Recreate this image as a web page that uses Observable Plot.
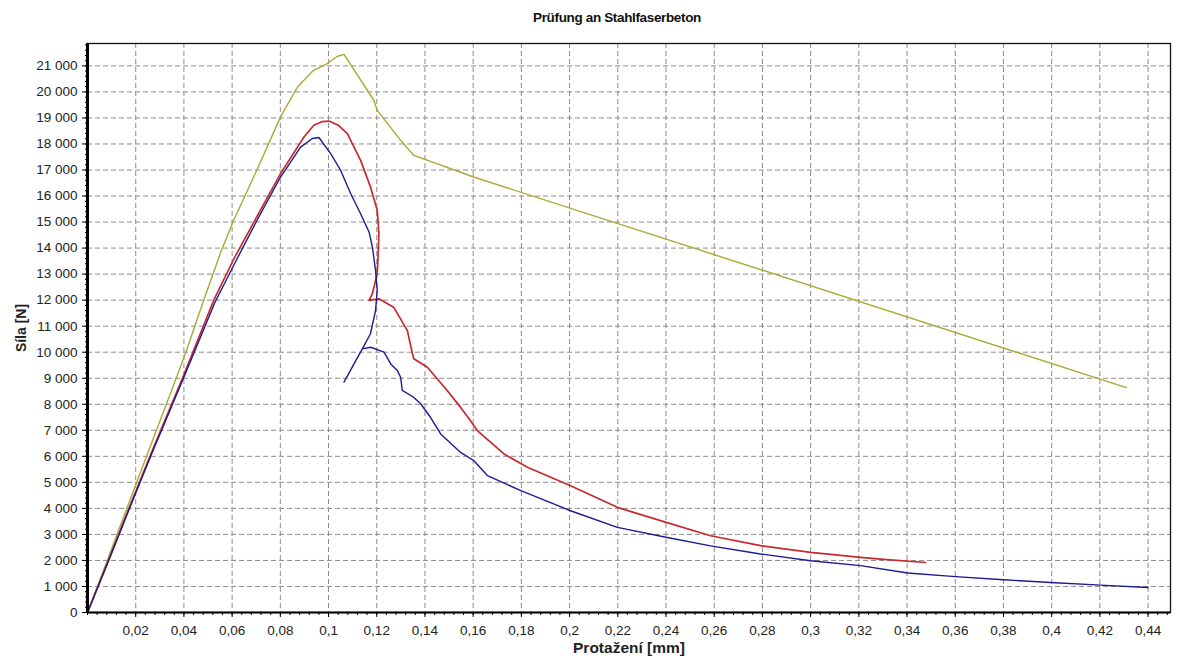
<!DOCTYPE html>
<html>
<head>
<meta charset="utf-8">
<script src="https://cdn.jsdelivr.net/npm/d3@7"></script>
<script src="https://cdn.jsdelivr.net/npm/@observablehq/plot@0.6"></script>
<style>
  html, body { margin: 0; padding: 0; background: #fff; }
  body { width: 1177px; height: 664px; position: relative; overflow: hidden; font-family: "Liberation Sans", Arial, sans-serif; }
  #title { position: absolute; top: 0; left: 617px; transform: translateX(-50%); height: 34px; line-height: 36px; font-weight: bold; font-size: 13.5px; letter-spacing: -0.35px; color: #111; white-space: nowrap; }
  #chart { position: absolute; top: 34px; left: 0; }
</style>
</head>
<body>
<div id="title">Prüfung an Stahlfaserbeton</div>
<div id="chart"></div>
<script>
// ---- data (x = Protažení [mm], y = Síla [N]) ----
const titleText = "Prüfung an Stahlfaserbeton";
const xLabel = "Protažení [mm]";
const yLabel = "Síla [N]";

const xTicks = [0.02, 0.04, 0.06, 0.08, 0.1, 0.12, 0.14, 0.16, 0.18, 0.2, 0.22, 0.24, 0.26, 0.28, 0.3, 0.32, 0.34, 0.36, 0.38, 0.4, 0.42, 0.44];
const yTicks = [0, 1000, 2000, 3000, 4000, 5000, 6000, 7000, 8000, 9000, 10000, 11000, 12000, 13000, 14000, 15000, 16000, 17000, 18000, 19000, 20000, 21000];

// red specimen
const seriesRed = [
  [0, 0], [0.0087, 2000], [0.0172, 4000], [0.0259, 6000], [0.0394, 9000], [0.0524, 12000],
  [0.0608, 13600], [0.0705, 15250], [0.0801, 16860], [0.0898, 18270],
  [0.0939, 18720], [0.0975, 18860], [0.1002, 18880], [0.1040, 18720], [0.1078, 18400], [0.1133, 17370],
  [0.1174, 16350], [0.1202, 15450], [0.1209, 14550], [0.1205, 13600], [0.1202, 13020], [0.1182, 12250],
  [0.1168, 11990], [0.1209, 12050], [0.1270, 11730], [0.1327, 10830], [0.1348, 9940],
  [0.1354, 9750], [0.1410, 9420], [0.1493, 8520], [0.1548, 7880], [0.1589, 7370],
  [0.1617, 6990], [0.1728, 6090], [0.1825, 5580], [0.2004, 4870], [0.2198, 4040],
  [0.2377, 3530], [0.2585, 2950], [0.2792, 2570], [0.3000, 2310], [0.3207, 2120],
  [0.3290, 2050], [0.3477, 1920]
];

// blue specimen
const seriesBlue = [
  [0, 0], [0.0088, 2000], [0.0174, 4000], [0.0262, 6000], [0.0398, 9000], [0.0528, 11900],
  [0.0610, 13400], [0.0705, 15100], [0.0801, 16730], [0.0884, 17880], [0.0933, 18210],
  [0.0960, 18250], [0.1009, 17630], [0.1050, 16990], [0.1092, 16090], [0.1133, 15320],
  [0.1168, 14620], [0.1182, 14040], [0.1195, 13140], [0.1202, 12370], [0.1195, 11600],
  [0.1174, 10710], [0.1140, 10130], [0.1064, 8850], [0.1140, 10130], [0.1175, 10190],
  [0.1230, 10000], [0.1258, 9550], [0.1285, 9300], [0.1299, 9040], [0.1306, 8530],
  [0.1353, 8270], [0.1382, 8020], [0.1423, 7500], [0.1465, 6860], [0.1548, 6150],
  [0.1603, 5830], [0.1659, 5260], [0.1798, 4680], [0.2004, 3910], [0.2198, 3270],
  [0.2405, 2880], [0.2585, 2560], [0.2792, 2250], [0.3000, 1990], [0.3207, 1800],
  [0.3402, 1520], [0.3601, 1380], [0.3800, 1260], [0.3995, 1150], [0.4202, 1050],
  [0.4400, 960]
];

// olive specimen
const seriesOlive = [
  [0, 0], [0.0082, 2000], [0.0163, 4000], [0.0245, 6000], [0.0368, 9000], [0.0408, 10000],
  [0.0482, 12000], [0.0553, 13850], [0.0608, 15100], [0.0705, 17050],
  [0.0801, 19040], [0.0871, 20190], [0.0938, 20830], [0.0995, 21090], [0.1037, 21370],
  [0.1064, 21440], [0.1188, 19680], [0.1202, 19290], [0.1299, 18140], [0.1354, 17560],
  [0.1602, 16730], [0.4310, 8640]
];

const seriesColors = ["#c62a2e", "#1c1c8e", "#a9a934"];

// ---- formatting ----
const loc = d3.formatLocale({decimal: ",", thousands: "\u00a0", grouping: [3], currency: ["", ""]});
const fmtY = loc.format(",d");
const fmtX = d => String(+d.toFixed(2)).replace(".", ",");

const minorX = d3.range(0, 113).map(i => +(i * 0.004).toFixed(3)).filter(v => v <= 0.449);
const minorY = d3.range(0, 110).map(i => i * 200).filter(v => v <= 21800);

const gridStyle = {stroke: "#8c8c8c", strokeOpacity: 1, strokeWidth: 1, strokeDasharray: "5,3"};

const chart = Plot.plot({
  width: 1177,
  height: 630,
  marginLeft: 87,
  marginRight: 7,
  marginTop: 9,
  marginBottom: 52,
  style: {fontFamily: "'Liberation Sans', Arial, sans-serif", fontSize: "13px", color: "#222", background: "#fff"},
  x: {domain: [0, 0.4493], label: null},
  y: {domain: [0, 21860], label: null},
  marks: [
    Plot.ruleY(yTicks.slice(1), gridStyle),
    Plot.ruleX(xTicks, gridStyle),
    Plot.frame({stroke: "#111", strokeWidth: 1.3}),
    Plot.line(seriesOlive, {x: d => d[0], y: d => d[1], stroke: seriesColors[2], strokeWidth: 1.4}),
    Plot.line(seriesRed, {x: d => d[0], y: d => d[1], stroke: seriesColors[0], strokeWidth: 1.7}),
    Plot.line(seriesBlue, {x: d => d[0], y: d => d[1], stroke: seriesColors[1], strokeWidth: 1.4}),
    Plot.ruleY([0], {stroke: "#000", strokeWidth: 2.2}),
    Plot.ruleX([0], {stroke: "#000", strokeWidth: 3}),
    Plot.axisY(minorY, {tickSize: 2, tickFormat: () => "", stroke: "#000"}),
    Plot.axisY(yTicks, {tickSize: 5, tickPadding: 5, tickFormat: fmtY, fontSize: 13.5, fill: "#222", stroke: "#000", label: null}),
    Plot.axisX(minorX, {tickSize: 3, tickFormat: () => "", stroke: "#000"}),
    Plot.axisX(xTicks, {tickSize: 5, tickPadding: 8, tickFormat: fmtX, fontSize: 13.5, fill: "#222", stroke: "#000", label: null}),
    Plot.text([xLabel], {frameAnchor: "bottom", dy: 36, lineAnchor: "middle", textAnchor: "middle", fontWeight: "bold", fontSize: 15.5, fill: "#222"}),
    Plot.text([yLabel], {frameAnchor: "left", dx: -66, rotate: -90, lineAnchor: "middle", textAnchor: "middle", fontWeight: "bold", fontSize: 14, fill: "#222"})
  ]
});
document.getElementById("chart").appendChild(chart);
</script>
</body>
</html>
